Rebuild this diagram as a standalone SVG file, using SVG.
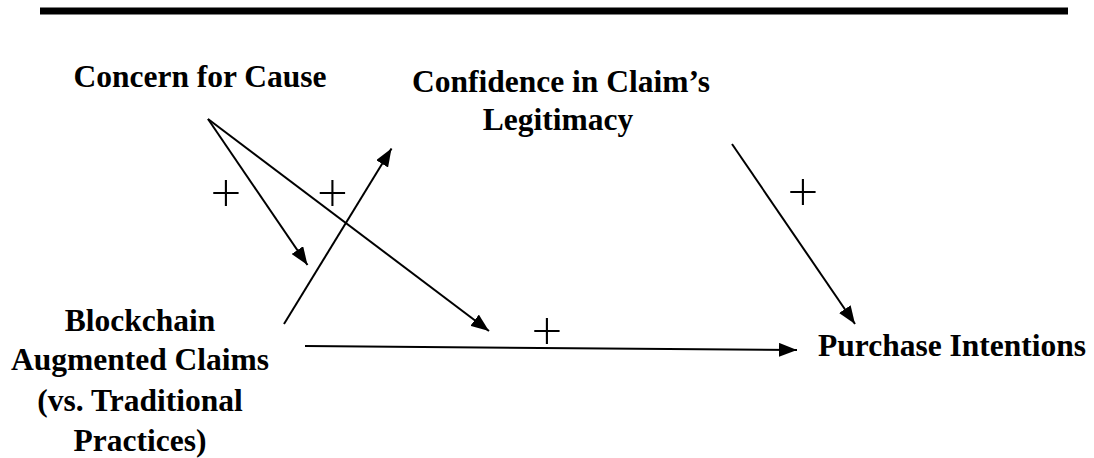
<svg xmlns="http://www.w3.org/2000/svg" width="1094" height="458" viewBox="0 0 1094 458">
<style>
.lbl{font-family:"Liberation Serif","Times New Roman",serif;font-weight:bold;font-size:31.5px;fill:#000}
.sign{font-family:Lato,"Liberation Sans",Arial,sans-serif;font-weight:300;font-size:54px;fill:#000;text-anchor:middle}
.conn line{stroke:#000;stroke-width:2;fill:none;marker-end:url(#ah)}
</style>
<defs>
<marker id="ah" markerUnits="userSpaceOnUse" viewBox="0 0 18 14" refX="18" refY="7" markerWidth="18" markerHeight="14" orient="auto">
<path d="M0,0 L18,7 L0,14 Z" fill="#000"/>
</marker>
</defs>
<rect x="40" y="7.5" width="1028" height="7" fill="#000"/>
<g id="concern"><text class="lbl" x="200" y="87" text-anchor="middle">Concern for Cause</text></g>
<g id="confidence"><text class="lbl" text-anchor="middle"><tspan x="561" y="92">Confidence in Claim’s</tspan><tspan x="558" y="130">Legitimacy</tspan></text></g>
<g id="blockchain"><text class="lbl" text-anchor="middle"><tspan x="140" y="330.5">Blockchain</tspan><tspan x="140" y="370">Augmented Claims</tspan><tspan x="140" y="410.5">(vs. Traditional</tspan><tspan x="140" y="451">Practices)</tspan></text></g>
<g id="purchase"><text class="lbl" x="818" y="356">Purchase Intentions</text></g>
<g class="conn" id="connectors">
<line x1="208" y1="119" x2="307.5" y2="265"/>
<line x1="208" y1="119" x2="489" y2="331"/>
<line x1="284" y1="324" x2="391.5" y2="148.5"/>
<line x1="305" y1="346" x2="797" y2="350"/>
<line x1="732" y1="144" x2="855" y2="324"/>
</g>
<g id="signs">
<text class="sign" x="226" y="211">+</text>
<text class="sign" x="332.5" y="211">+</text>
<text class="sign" x="547" y="349">+</text>
<text class="sign" x="803" y="210">+</text>
</g>
</svg>
